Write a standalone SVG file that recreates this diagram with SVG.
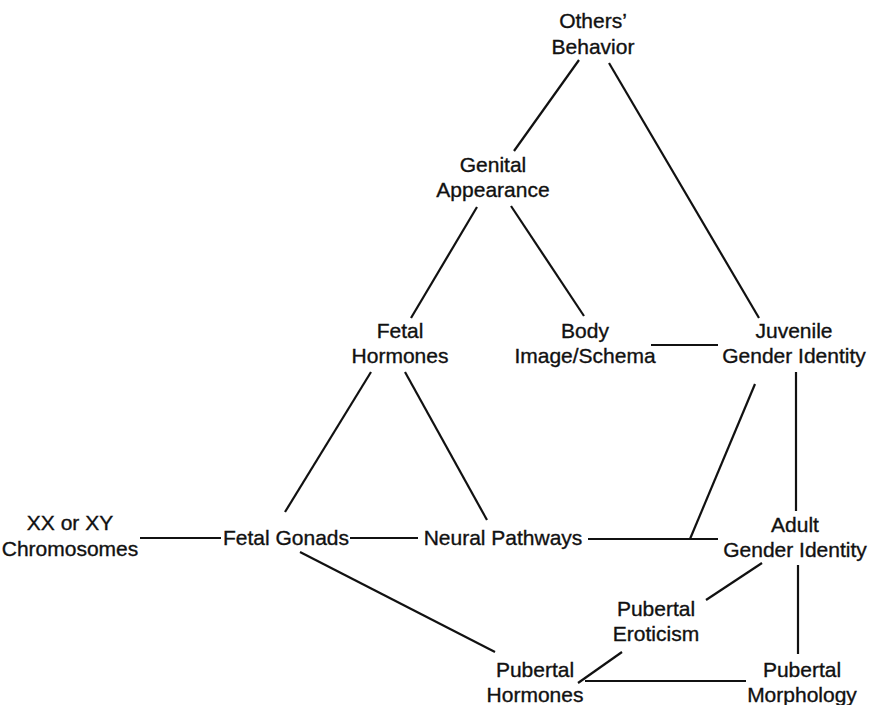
<svg xmlns="http://www.w3.org/2000/svg" width="876" height="705" viewBox="0 0 876 705">
  <style>
    .lbl { font-family: "Liberation Sans", Arial, sans-serif; font-size: 21px; fill: #111; stroke: #111; stroke-width: 0.35; text-anchor: middle; }
    .edge { stroke: #111; stroke-width: 2.2; fill: none; stroke-linecap: butt; }
  </style>
  <rect width="876" height="705" fill="#fff"/>

  <g id="connectors">
    <line class="edge" x1="579" y1="60" x2="514" y2="151"/>
    <line class="edge" x1="609" y1="63" x2="759" y2="318"/>
    <line class="edge" x1="477" y1="207" x2="411" y2="318"/>
    <line class="edge" x1="511" y1="206" x2="584" y2="316"/>
    <line class="edge" x1="651" y1="345" x2="718" y2="345"/>
    <line class="edge" x1="371" y1="372" x2="285" y2="512"/>
    <line class="edge" x1="405" y1="372" x2="487" y2="520"/>
    <line class="edge" x1="755" y1="384" x2="690" y2="539"/>
    <line class="edge" x1="796" y1="372" x2="796" y2="511"/>
    <line class="edge" x1="140" y1="538" x2="221" y2="538"/>
    <line class="edge" x1="350" y1="538" x2="418" y2="538"/>
    <line class="edge" x1="588" y1="539" x2="718" y2="539"/>
    <line class="edge" x1="762" y1="563" x2="706" y2="600"/>
    <line class="edge" x1="798" y1="565" x2="798" y2="654"/>
    <line class="edge" x1="300" y1="552" x2="495" y2="652"/>
    <line class="edge" x1="622" y1="652" x2="578" y2="683"/>
    <line class="edge" x1="585" y1="681" x2="746" y2="681"/>
  </g>

  <g id="others-behavior"><text class="lbl" x="593" y="28">Others’</text><text class="lbl" x="593" y="54">Behavior</text></g>
  <g id="genital-appearance"><text class="lbl" x="493" y="172">Genital</text><text class="lbl" x="493" y="197">Appearance</text></g>
  <g id="fetal-hormones"><text class="lbl" x="400" y="338">Fetal</text><text class="lbl" x="400" y="363">Hormones</text></g>
  <g id="body-image"><text class="lbl" x="585" y="338">Body</text><text class="lbl" x="585" y="363">Image/Schema</text></g>
  <g id="juvenile-gender-identity"><text class="lbl" x="794" y="338">Juvenile</text><text class="lbl" x="794" y="363">Gender Identity</text></g>
  <g id="chromosomes"><text class="lbl" x="70" y="530">XX or XY</text><text class="lbl" x="70" y="556">Chromosomes</text></g>
  <g id="fetal-gonads"><text class="lbl" x="286" y="545">Fetal Gonads</text></g>
  <g id="neural-pathways"><text class="lbl" x="503" y="545">Neural Pathways</text></g>
  <g id="adult-gender-identity"><text class="lbl" x="795" y="532">Adult</text><text class="lbl" x="795" y="557">Gender Identity</text></g>
  <g id="pubertal-eroticism"><text class="lbl" x="656" y="616">Pubertal</text><text class="lbl" x="656" y="641">Eroticism</text></g>
  <g id="pubertal-hormones"><text class="lbl" x="535" y="677">Pubertal</text><text class="lbl" x="535" y="702">Hormones</text></g>
  <g id="pubertal-morphology"><text class="lbl" x="802" y="677">Pubertal</text><text class="lbl" x="802" y="702">Morphology</text></g>
</svg>
